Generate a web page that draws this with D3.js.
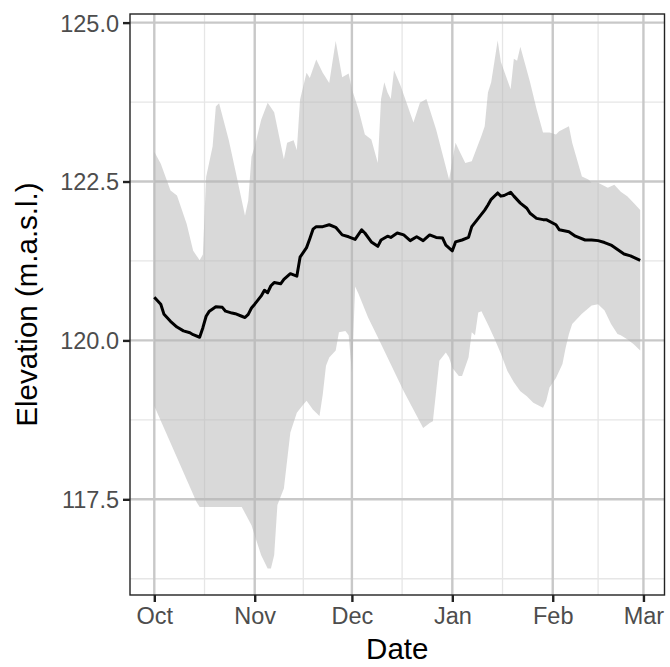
<!DOCTYPE html>
<html>
<head>
<meta charset="utf-8">
<script src="https://cdn.jsdelivr.net/npm/d3@7"></script>
<style>
  html, body { margin: 0; padding: 0; background: #ffffff; }
  svg { display: block; }
  text { font-family: "Liberation Sans", Arial, Helvetica, sans-serif; }
</style>
</head>
<body>
<svg id="chart" width="670" height="667"></svg>
<script>
// ---------------- DATA ----------------
const upperDates = ["2018-10-01","2018-10-03","2018-10-06","2018-10-08","2018-10-11","2018-10-13","2018-10-15","2018-10-16","2018-10-17","2018-10-19","2018-10-20","2018-10-21","2018-10-24","2018-10-26","2018-10-29","2018-10-30","2018-10-31","2018-11-01","2018-11-03","2018-11-05","2018-11-07","2018-11-10","2018-11-11","2018-11-13","2018-11-14","2018-11-15","2018-11-17","2018-11-18","2018-11-20","2018-11-22","2018-11-24","2018-11-26","2018-11-28","2018-11-30","2018-12-01","2018-12-03","2018-12-05","2018-12-07","2018-12-09","2018-12-10","2018-12-11","2018-12-12","2018-12-13","2018-12-14","2018-12-16","2018-12-20","2018-12-22","2018-12-24","2018-12-27","2018-12-31","2019-01-02","2019-01-03","2019-01-05","2019-01-07","2019-01-10","2019-01-11","2019-01-12","2019-01-13","2019-01-15","2019-01-16","2019-01-19","2019-01-20","2019-01-21","2019-01-22","2019-01-25","2019-01-27","2019-01-29","2019-01-31","2019-02-02","2019-02-03","2019-02-06","2019-02-07","2019-02-10","2019-02-12","2019-02-13","2019-02-15","2019-02-18","2019-02-20","2019-02-22","2019-02-24","2019-02-26","2019-02-28"];
const upperVals = [122.97,122.78,122.36,122.28,121.83,121.41,121.26,121.35,122.57,123.05,123.68,123.73,123.15,122.68,121.96,122.20,122.89,123.05,123.47,123.74,123.59,122.85,123.11,123.15,122.99,123.79,124.21,124.13,124.42,124.21,124.05,124.71,124.14,124.20,123.95,123.64,123.24,123.16,122.79,123.80,124.06,123.90,123.80,124.25,124.01,123.43,123.74,123.80,123.32,122.53,123.11,123.00,122.79,122.82,123.22,123.37,123.90,124.06,124.72,124.38,123.95,124.43,124.40,124.62,124.06,123.64,123.27,123.27,123.24,123.29,123.37,123.11,122.58,122.53,122.48,122.48,122.40,122.45,122.34,122.27,122.16,122.05];

const lowerDates = ["2018-10-01","2018-10-14","2018-10-15","2018-10-28","2018-10-31","2018-11-03","2018-11-05","2018-11-06","2018-11-07","2018-11-08","2018-11-10","2018-11-12","2018-11-14","2018-11-16","2018-11-17","2018-11-19","2018-11-21","2018-11-22","2018-11-23","2018-11-24","2018-11-26","2018-11-27","2018-11-29","2018-11-30","2018-12-01","2018-12-02","2018-12-03","2018-12-06","2018-12-09","2018-12-17","2018-12-23","2018-12-25","2018-12-26","2018-12-27","2018-12-28","2018-12-30","2018-12-31","2019-01-01","2019-01-03","2019-01-04","2019-01-06","2019-01-07","2019-01-08","2019-01-09","2019-01-10","2019-01-12","2019-01-14","2019-01-16","2019-01-18","2019-01-20","2019-01-22","2019-01-24","2019-01-26","2019-01-29","2019-01-30","2019-01-31","2019-02-02","2019-02-04","2019-02-05","2019-02-06","2019-02-07","2019-02-10","2019-02-13","2019-02-15","2019-02-17","2019-02-19","2019-02-21","2019-02-22","2019-02-24","2019-02-26","2019-02-28"];
const lowerVals = [118.97,117.46,117.38,117.38,117.09,116.62,116.41,116.41,116.62,117.41,117.67,118.55,118.86,118.99,119.05,118.91,118.81,119.15,119.60,119.73,119.84,120.13,120.15,120.08,119.50,120.85,120.74,120.36,120.05,119.20,118.62,118.70,118.73,119.20,119.68,119.81,119.73,119.57,119.44,119.44,119.73,120.13,120.08,120.44,120.46,120.25,120.03,119.79,119.52,119.34,119.20,119.12,119.02,118.94,119.05,119.26,119.41,119.63,119.89,120.10,120.26,120.42,120.55,120.57,120.47,120.26,120.10,120.08,120.02,119.94,119.84];

const meanDates = ["2018-10-01","2018-10-03","2018-10-04","2018-10-06","2018-10-08","2018-10-10","2018-10-12","2018-10-13","2018-10-15","2018-10-16","2018-10-17","2018-10-18","2018-10-20","2018-10-22","2018-10-23","2018-10-25","2018-10-26","2018-10-28","2018-10-29","2018-10-30","2018-10-31","2018-11-01","2018-11-03","2018-11-04","2018-11-05","2018-11-06","2018-11-07","2018-11-09","2018-11-10","2018-11-12","2018-11-14","2018-11-15","2018-11-17","2018-11-18","2018-11-19","2018-11-20","2018-11-22","2018-11-24","2018-11-26","2018-11-28","2018-11-30","2018-12-02","2018-12-04","2018-12-05","2018-12-07","2018-12-09","2018-12-10","2018-12-12","2018-12-13","2018-12-15","2018-12-17","2018-12-19","2018-12-21","2018-12-23","2018-12-25","2018-12-27","2018-12-29","2018-12-30","2019-01-01","2019-01-02","2019-01-04","2019-01-06","2019-01-07","2019-01-09","2019-01-11","2019-01-12","2019-01-13","2019-01-15","2019-01-16","2019-01-17","2019-01-19","2019-01-20","2019-01-22","2019-01-24","2019-01-25","2019-01-27","2019-01-29","2019-01-30","2019-02-02","2019-02-03","2019-02-06","2019-02-08","2019-02-11","2019-02-13","2019-02-15","2019-02-17","2019-02-19","2019-02-21","2019-02-23","2019-02-25","2019-02-28"];
const meanVals = [120.68,120.57,120.41,120.30,120.21,120.15,120.12,120.09,120.05,120.20,120.38,120.46,120.53,120.52,120.46,120.43,120.42,120.38,120.36,120.41,120.51,120.57,120.70,120.79,120.75,120.86,120.91,120.89,120.96,121.05,121.01,121.31,121.46,121.60,121.75,121.79,121.79,121.82,121.78,121.66,121.63,121.59,121.74,121.69,121.55,121.48,121.58,121.64,121.62,121.69,121.66,121.57,121.63,121.57,121.66,121.62,121.61,121.50,121.41,121.55,121.58,121.62,121.79,121.92,122.05,122.13,122.22,122.32,122.27,122.28,122.33,122.27,122.16,122.08,122.00,121.92,121.90,121.90,121.82,121.74,121.71,121.64,121.58,121.58,121.57,121.54,121.50,121.43,121.36,121.33,121.26];

const xTickDates = ["2018-10-01","2018-11-01","2018-12-01","2019-01-01","2019-02-01","2019-03-01"];
const xTickLabels = ["Oct","Nov","Dec","Jan","Feb","Mar"];
const yTicks = [117.5, 120.0, 122.5, 125.0];
const yTickLabels = ["117.5","120.0","122.5","125.0"];
const xTitle = "Date";
const yTitle = "Elevation (m.a.s.l.)";

// ---------------- LAYOUT ----------------
const W = 670, H = 667;
const panel = { left: 130, top: 14, right: 664.5, bottom: 595 };

const parse = d3.utcParse("%Y-%m-%d");
const upper = upperDates.map((d, i) => ({ date: parse(d), v: upperVals[i] }));
const lower = lowerDates.map((d, i) => ({ date: parse(d), v: lowerVals[i] }));
const mean = meanDates.map((d, i) => ({ date: parse(d), v: meanVals[i] }));

// ggplot-style 5% expansion
const allDates = upper.concat(lower, mean).map(d => +d.date);
const dMin = d3.min(allDates), dMax = d3.max(allDates);
const dPad = (dMax - dMin) * 0.05;
const allVals = upperVals.concat(lowerVals, meanVals);
const vMin = d3.min(allVals), vMax = d3.max(allVals);
const vPad = (vMax - vMin) * 0.05;

const x = d3.scaleUtc().domain([new Date(dMin - dPad), new Date(dMax + dPad)]).range([panel.left, panel.right]);
const y = d3.scaleLinear().domain([vMin - vPad, vMax + vPad]).range([panel.bottom, panel.top]);

const svg = d3.select("#chart");
svg.append("rect").attr("width", W).attr("height", H).attr("fill", "#ffffff");

const pw = panel.right - panel.left, ph = panel.bottom - panel.top;
svg.append("defs").append("clipPath").attr("id", "clip")
  .append("rect").attr("x", panel.left).attr("y", panel.top).attr("width", pw).attr("height", ph);

const g = svg.append("g").attr("clip-path", "url(#clip)");

// minor gridlines (midpoints)
const xMajor = xTickDates.map(parse);
const xMinor = [];
for (let i = 0; i < xMajor.length - 1; i++) xMinor.push(new Date((+xMajor[i] + +xMajor[i + 1]) / 2));
const yMinor = [];
for (let i = 0; i < yTicks.length - 1; i++) yMinor.push((yTicks[i] + yTicks[i + 1]) / 2);
yMinor.unshift(yTicks[0] - 1.25);

g.selectAll(".xminor").data(xMinor).enter().append("line")
  .attr("x1", d => x(d)).attr("x2", d => x(d)).attr("y1", panel.top).attr("y2", panel.bottom)
  .attr("stroke", "#e6e6e6").attr("stroke-width", 1.3);
g.selectAll(".yminor").data(yMinor).enter().append("line")
  .attr("x1", panel.left).attr("x2", panel.right).attr("y1", d => y(d)).attr("y2", d => y(d))
  .attr("stroke", "#e6e6e6").attr("stroke-width", 1.3);

// major gridlines
g.selectAll(".xmajor").data(xMajor).enter().append("line")
  .attr("x1", d => x(d)).attr("x2", d => x(d)).attr("y1", panel.top).attr("y2", panel.bottom)
  .attr("stroke", "#c8c8c8").attr("stroke-width", 2.4);
g.selectAll(".ymajor").data(yTicks).enter().append("line")
  .attr("x1", panel.left).attr("x2", panel.right).attr("y1", d => y(d)).attr("y2", d => y(d))
  .attr("stroke", "#c8c8c8").attr("stroke-width", 2.4);

// ribbon: upper forward, lower backward
const ribbonPts = upper.concat(lower.slice().reverse());
const ribbonLine = d3.line().x(d => x(d.date)).y(d => y(d.v));
g.append("path").attr("d", ribbonLine(ribbonPts) + "Z")
  .attr("fill", "#b3b3b3").attr("fill-opacity", 0.5).attr("stroke", "none");

// mean line
g.append("path").datum(mean)
  .attr("d", d3.line().x(d => x(d.date)).y(d => y(d.v)))
  .attr("fill", "none").attr("stroke", "#000000").attr("stroke-width", 3)
  .attr("stroke-linejoin", "round").attr("stroke-linecap", "butt");

// panel border
svg.append("rect").attr("x", panel.left).attr("y", panel.top).attr("width", pw).attr("height", ph)
  .attr("fill", "none").attr("stroke", "#222222").attr("stroke-width", 1.4);

// axes
const xAxis = d3.axisBottom(x).tickValues(xMajor).tickFormat((d, i) => xTickLabels[i]).tickSize(7).tickPadding(6);
const xg = svg.append("g").attr("transform", `translate(0,${panel.bottom})`).call(xAxis);
xg.select(".domain").remove();
xg.selectAll(".tick line").attr("stroke", "#222222").attr("stroke-width", 2.4);
xg.selectAll(".tick text").attr("fill", "#4d4d4d").style("font-size", "23.5px")
  .style("font-family", "'Liberation Sans', Arial, sans-serif").attr("dy", "0.71em").attr("y", 12);

const yAxis = d3.axisLeft(y).tickValues(yTicks).tickFormat((d, i) => yTickLabels[i]).tickSize(7).tickPadding(5);
const yg = svg.append("g").attr("transform", `translate(${panel.left},0)`).call(yAxis);
yg.select(".domain").remove();
yg.selectAll(".tick line").attr("stroke", "#222222").attr("stroke-width", 2.4);
yg.selectAll(".tick text").attr("fill", "#4d4d4d").style("font-size", "23.5px")
  .style("font-family", "'Liberation Sans', Arial, sans-serif").attr("x", -11).attr("dy", "0.36em");

// titles
svg.append("text").attr("x", (panel.left + panel.right) / 2).attr("y", 659)
  .attr("text-anchor", "middle").attr("fill", "#000000").style("font-size", "29.5px").text(xTitle);
svg.append("text").attr("transform", `translate(37,${(panel.top + panel.bottom) / 2}) rotate(-90)`)
  .attr("text-anchor", "middle").attr("fill", "#000000").style("font-size", "29.5px").text(yTitle);
</script>
</body>
</html>
